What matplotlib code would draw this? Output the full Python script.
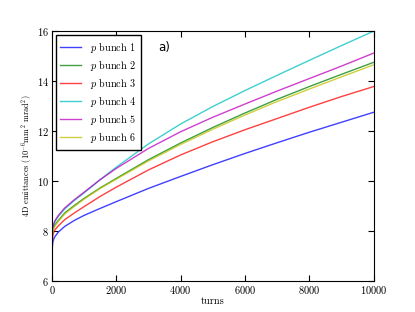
import matplotlib
matplotlib.use("Agg")
import matplotlib.pyplot as plt

turns = [0, 5, 15, 30, 60, 100, 200, 400, 700, 1000, 1500, 2000, 3000, 4000,
         5000, 6000, 7000, 8000, 9000, 10000]

bunch1 = [6.5, 7.0, 7.35, 7.55, 7.68, 7.78, 7.95, 8.18, 8.42, 8.62, 8.9, 9.17, 9.7,
          10.18, 10.65, 11.1, 11.53, 11.95, 12.35, 12.75]
bunch2 = [6.5, 7.35, 7.8, 8.0, 8.15, 8.25, 8.42, 8.72, 9.02, 9.3, 9.72, 10.1, 10.85,
          11.52, 12.14, 12.72, 13.27, 13.78, 14.27, 14.75]
bunch3 = [6.5, 7.2, 7.6, 7.8, 7.95, 8.05, 8.2, 8.45, 8.72, 8.97, 9.38, 9.75, 10.44,
          11.04, 11.57, 12.05, 12.5, 12.95, 13.38, 13.78]
bunch4 = [6.5, 7.4, 7.9, 8.1, 8.25, 8.38, 8.58, 8.88, 9.22, 9.52, 10.05, 10.55, 11.48,
          12.28, 12.98, 13.62, 14.23, 14.83, 15.42, 16.0]
bunch5 = [6.5, 7.45, 7.95, 8.15, 8.3, 8.42, 8.62, 8.92, 9.25, 9.55, 10.05, 10.5, 11.3,
          11.97, 12.55, 13.08, 13.6, 14.1, 14.6, 15.12]
bunch6 = [6.5, 7.3, 7.75, 7.95, 8.1, 8.2, 8.38, 8.68, 8.98, 9.27, 9.7, 10.07, 10.8,
          11.46, 12.07, 12.64, 13.18, 13.68, 14.17, 14.65]

series = [bunch1, bunch2, bunch3, bunch4, bunch5, bunch6]
labels = [r"$p$ bunch %d" % i for i in range(1, 7)]
colors = ["b", "g", "r", "c", "m", "y"]

plt.rcParams["font.family"] = ["cmr10", "DejaVu Serif"]
plt.rcParams["mathtext.fontset"] = "cm"
plt.rcParams["axes.formatter.use_mathtext"] = True

fig = plt.figure(figsize=(4.15, 3.12), dpi=100)
ax = fig.add_axes([0.125, 0.1, 0.775, 0.8])

for s, lab, c in zip(series, labels, colors):
    ax.plot(turns, s, color=c, lw=1.0, alpha=0.75, label=lab)

ax.set_xlim(0, 10000)
ax.set_ylim(6, 16)
ax.set_xticks([0, 2000, 4000, 6000, 8000, 10000])
ax.set_yticks([6, 8, 10, 12, 14, 16])
ax.tick_params(direction="in", top=True, right=True, labelsize=7.5, length=4, pad=2)
ax.set_xlabel("turns", fontsize=7.5, labelpad=1)
ax.set_ylabel(r"4D emittances ($10^{-6}$mm$^2$ mrad$^2$)", fontsize=6, labelpad=2)

leg = ax.legend(loc="upper left", fontsize=7.3, fancybox=False, framealpha=1,
                edgecolor="black", handlelength=2.0, borderpad=0.45, labelspacing=0.3,
                handletextpad=0.9, borderaxespad=0.4)
leg.get_frame().set_linewidth(1.0)

ax.text(0.33, 0.935, "a)", transform=ax.transAxes, fontsize=8.5,
        family="DejaVu Sans", va="center", ha="left")

fig.savefig("out.png", dpi=100)
